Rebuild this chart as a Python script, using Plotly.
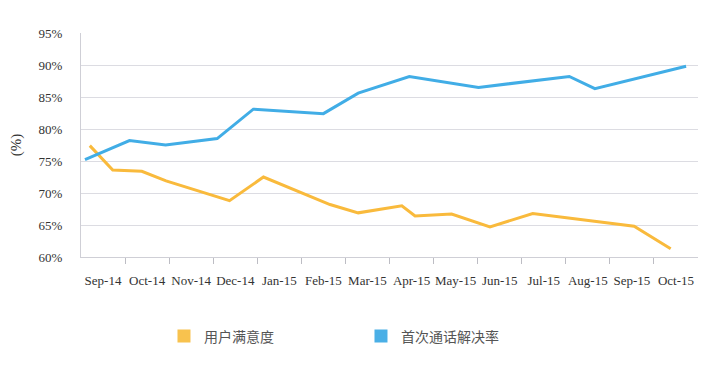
import plotly.graph_objects as go

# Month categories (x axis, one slot per month)
months = ["Sep-14", "Oct-14", "Nov-14", "Dec-14", "Jan-15", "Feb-15", "Mar-15",
          "Apr-15", "May-15", "Jun-15", "Jul-15", "Aug-15", "Sep-15", "Oct-15"]

# Series 1: 用户满意度 (x in month-slot units, y in %)
sat_x = [0.20, 0.72, 1.38, 1.93, 3.37, 4.14, 5.65, 6.29, 7.28, 7.58, 8.41, 9.28, 10.25, 12.55, 13.38]
sat_y = [77.4, 73.6, 73.4, 71.9, 68.8, 72.5, 68.2, 66.9, 68.0, 66.4, 66.7, 64.7, 66.8, 64.8, 61.3]

# Series 2: 首次通话解决率
fcr_x = [0.09, 1.10, 1.92, 3.09, 3.91, 5.50, 6.29, 7.45, 9.02, 11.08, 11.66, 13.73]
fcr_y = [75.2, 78.2, 77.5, 78.5, 83.1, 82.4, 85.6, 88.2, 86.5, 88.2, 86.3, 89.8]

series_names = ["用户满意度", "首次通话解决率"]
colors = ["#f9ba3c", "#41ade6"]
legend_colors = ["#f8c24e", "#4aafe6"]

y_ticks = [60, 65, 70, 75, 80, 85, 90, 95]

fig = go.Figure()
fig.add_trace(go.Scatter(x=sat_x, y=sat_y, mode="lines", line=dict(color=colors[0], width=3),
                         showlegend=False, name=series_names[0]))
fig.add_trace(go.Scatter(x=fcr_x, y=fcr_y, mode="lines", line=dict(color=colors[1], width=3),
                         showlegend=False, name=series_names[1]))
for name, c in zip(series_names, legend_colors):
    fig.add_trace(go.Scatter(x=[None], y=[None], mode="markers", name=name,
                             marker=dict(symbol="square", size=13, color=c)))

serif = "Liberation Serif"
n = len(months)
fig.update_layout(
    width=718, height=363,
    margin=dict(l=73, r=28, t=25, b=114, autoexpand=False),
    paper_bgcolor="white", plot_bgcolor="white",
    font=dict(family=serif, size=13, color="#333333"),
    xaxis=dict(
        range=[0, n], tickmode="array",
        tickvals=[i + 0.5 for i in range(n)], ticktext=months,
        ticks="", showgrid=False, zeroline=False, automargin=False,
        showline=True, linecolor="#cfcfd6", linewidth=1,
        ticklabelstandoff=11,
        minor=dict(tickmode="array", tickvals=list(range(1, n)), ticks="outside",
                   ticklen=6, tickcolor="#bdbdc4", showgrid=False),
        tickfont=dict(family=serif, size=13, color="#333333"),
    ),
    yaxis=dict(
        range=[60, 95], tickmode="array", tickvals=y_ticks,
        ticktext=[f"{v}%" for v in y_ticks],
        showgrid=True, gridcolor="#dcdce2", gridwidth=1, zeroline=False, automargin=False,
        showline=True, linecolor="#cfcfd6", linewidth=1,
        ticks="", ticklabelstandoff=15,
        tickfont=dict(family=serif, size=13, color="#333333"),
        title=dict(text="(%)", font=dict(family=serif, size=15, color="#333333"), standoff=13),
    ),
    legend=dict(
        orientation="h", x=0.1345, xanchor="left", y=-0.355, yanchor="middle",
        entrywidth=152, entrywidthmode="pixels",
        font=dict(family="Noto Sans CJK SC", size=14, color="#555555"),
        itemclick=False,
    ),
)

fig.write_html("out.html")
